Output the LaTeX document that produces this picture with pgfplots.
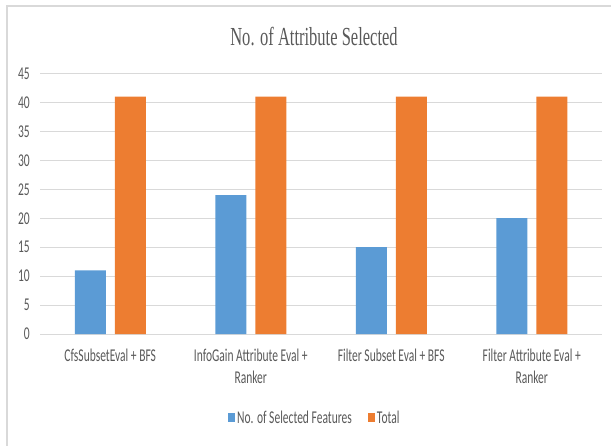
\documentclass[border=0pt]{standalone}
\usepackage{pgfplots}
\pgfplotsset{compat=1.18}
\usepackage{fontspec}
\setmainfont{Carlito}[FakeStretch=0.64]
\newfontfamily\titlefont{Liberation Serif}[FakeStretch=0.635]
\definecolor{cblue}{HTML}{5B9BD5}
\definecolor{corange}{HTML}{ED7D31}
\definecolor{txt}{HTML}{595959}
\definecolor{gridgray}{HTML}{D9D9D9}
\begin{document}
\begin{tikzpicture}
\useasboundingbox (0pt,0pt) rectangle (611pt,445pt);
\clip (0pt,0pt) rectangle (611pt,445pt);
\draw[gridgray, line width=1.5pt] (7pt,-10pt) rectangle (650pt,439pt);
\node[text=txt, font=\titlefont\fontsize{26}{28}\selectfont] at (314pt,408pt) {No. of Attribute Selected};
\begin{axis}[
  at={(40pt,111pt)}, anchor=south west,
  scale only axis, width=562pt, height=260.5pt,
  ybar=9pt, bar width=31pt,
  xmin=-0.5, xmax=3.5, ymin=0, ymax=45,
  ytick={0,5,...,45},
  xtick={0,1,2,3},
  xticklabels={{CfsSubsetEval + BFS},{InfoGain Attribute Eval +\\Ranker},{Filter Subset Eval + BFS},{Filter Attribute Eval +\\Ranker}},
  axis line style={draw=none},
  major tick length=0pt,
  ymajorgrids, xmajorgrids=false, grid style={draw=gridgray, line width=1pt},
  tick label style={text=txt, font=\fontsize{18}{22}\selectfont},
  /pgf/number format/assume math mode=true,
  yticklabel style={anchor=east, inner sep=0pt, xshift=-10pt},
  xticklabel style={align=center, anchor=north, inner sep=0pt, yshift=-15pt},
  legend style={at={(0.489,-0.322)}, anchor=center, draw=none, fill=none,
    legend columns=2, font=\fontsize{18}{20}\selectfont, text=txt,
    /tikz/every even column/.append style={column sep=14pt},
    legend cell align=left},
  legend image code/.code={\fill[#1] (2pt,-4.5pt) rectangle (9pt,4.5pt);},
]
\addplot[fill=cblue, draw=none] coordinates {(0,11) (1,24) (2,15) (3,20)};
\addplot[fill=corange, draw=none] coordinates {(0,41) (1,41) (2,41) (3,41)};
\legend{No. of Selected Features, Total}
\end{axis}
\end{tikzpicture}
\end{document}
